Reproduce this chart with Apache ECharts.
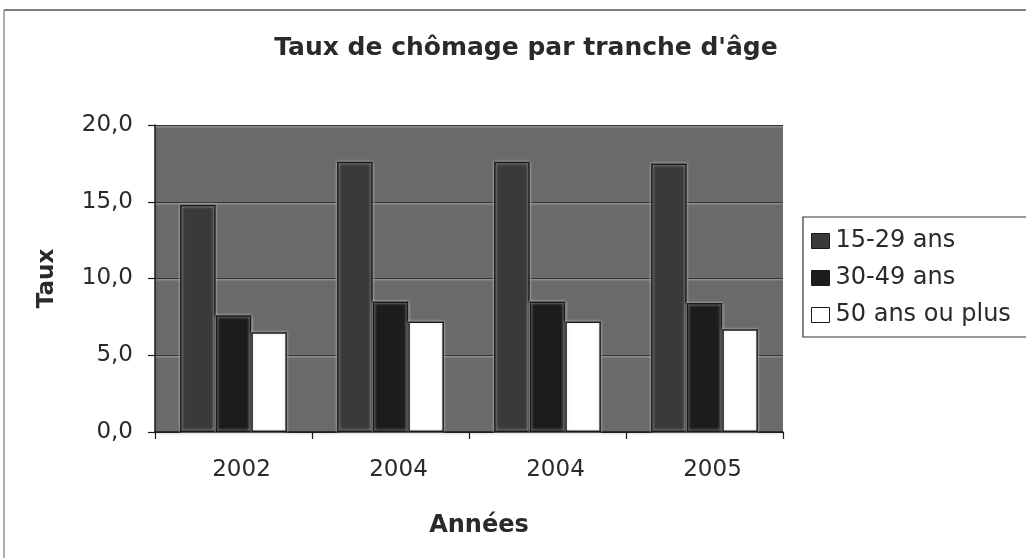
<!DOCTYPE html>
<html>
<head>
<meta charset="utf-8">
<script src="https://cdn.jsdelivr.net/npm/echarts@6/dist/echarts.min.js"></script>
<style>
html,body{margin:0;padding:0;background:#fff;}
#c{width:1026px;height:558px;}
</style>
</head>
<body>
<div id="c"></div>
<script>
const categories = ['2002', '2004', '2004', '2005'];
const seriesNames = ['15-29 ans', '30-49 ans', '50 ans ou plus'];
const s1529 = [14.8, 17.6, 17.6, 17.5];
const s3049 = [7.6, 8.5, 8.5, 8.4];
const s50plus = [6.5, 7.2, 7.2, 6.7];
const yTicks = [0, 5, 10, 15, 20];

const FONT = '"DejaVu Sans", "Liberation Sans", Arial, sans-serif';
const colors = ['#3a3a3a', '#1c1c1c', '#ffffff'];

const chart = echarts.init(document.getElementById('c'), null, {renderer: 'canvas'});

function barSeries(name, data, color) {
  return {
    name: name,
    type: 'bar',
    data: data,
    barGap: '0%',
    barCategoryGap: '32%',
    itemStyle: {
      color: color,
      borderColor: '#1a1a1a',
      borderWidth: 1.5,
      shadowColor: 'rgba(220,220,220,0.9)',
      shadowBlur: 3
    },
    emphasis: {disabled: true},
    animation: false
  };
}

chart.setOption({
  animation: false,
  backgroundColor: '#ffffff',
  title: {
    text: "Taux de chômage par tranche d'âge",
    left: 521,
    top: 31,
    textAlign: 'center',
    textStyle: {fontFamily: FONT, fontSize: 25, fontWeight: 'bold', color: '#2a2a2a'}
  },
  graphic: [
    {type: 'line', shape: {x1: 4, y1: 10, x2: 1026, y2: 10}, style: {stroke: '#555', lineWidth: 1.5}, silent: true},
    {type: 'line', shape: {x1: 4, y1: 10, x2: 4, y2: 558}, style: {stroke: '#777', lineWidth: 1.2}, silent: true}
  ],
  legend: {
    left: 803,
    top: 217,
    orient: 'vertical',
    icon: 'rect',
    itemWidth: 18,
    itemHeight: 15,
    itemGap: 13,
    padding: [12, 60, 10, 8],
    borderColor: '#333',
    borderWidth: 1.2,
    backgroundColor: '#fff',
    textStyle: {fontFamily: FONT, fontSize: 24, lineHeight: 24, color: '#2a2a2a', padding: [0, 0, 0, 1]},
    itemStyle: {borderColor: '#1a1a1a', borderWidth: 1, shadowBlur: 0},
    data: seriesNames
  },
  grid: {left: 155, right: 243, top: 125, bottom: 126, show: true, backgroundColor: '#6a6a6a', borderWidth: 0},
  xAxis: {
    type: 'category',
    data: categories,
    name: 'Années',
    nameLocation: 'middle',
    nameGap: 82,
    nameTextStyle: {fontFamily: FONT, fontSize: 24, fontWeight: 'bold', color: '#2a2a2a', padding: [0, 0, 0, 20]},
    axisLine: {lineStyle: {color: '#1a1a1a', width: 1.5}},
    axisTick: {show: true, length: 7, lineStyle: {color: '#1a1a1a', width: 1.2}},
    axisLabel: {fontFamily: FONT, fontSize: 23, color: '#2a2a2a', margin: 27, padding: [0, 0, 0, 16]}
  },
  yAxis: {
    type: 'value',
    min: yTicks[0],
    max: yTicks[yTicks.length - 1],
    interval: 5,
    name: 'Taux',
    nameLocation: 'middle',
    nameGap: 96,
    nameRotate: 90,
    nameTextStyle: {fontFamily: FONT, fontSize: 23, fontWeight: 'bold', color: '#2a2a2a'},
    axisLine: {show: true, lineStyle: {color: '#1a1a1a', width: 1.5}},
    axisTick: {show: true, length: 7, lineStyle: {color: '#1a1a1a', width: 1.2}},
    axisLabel: {fontFamily: FONT, fontSize: 23, color: '#2a2a2a', margin: 22,
      formatter: v => v.toFixed(1).replace('.', ',')},
    splitLine: {show: true, lineStyle: {color: '#333', width: 1.2, shadowColor: 'rgba(200,200,200,0.8)', shadowBlur: 2, shadowOffsetY: 1}}
  },
  series: [
    barSeries(seriesNames[0], s1529, colors[0]),
    barSeries(seriesNames[1], s3049, colors[1]),
    barSeries(seriesNames[2], s50plus, colors[2])
  ]
});
</script>
</body>
</html>
